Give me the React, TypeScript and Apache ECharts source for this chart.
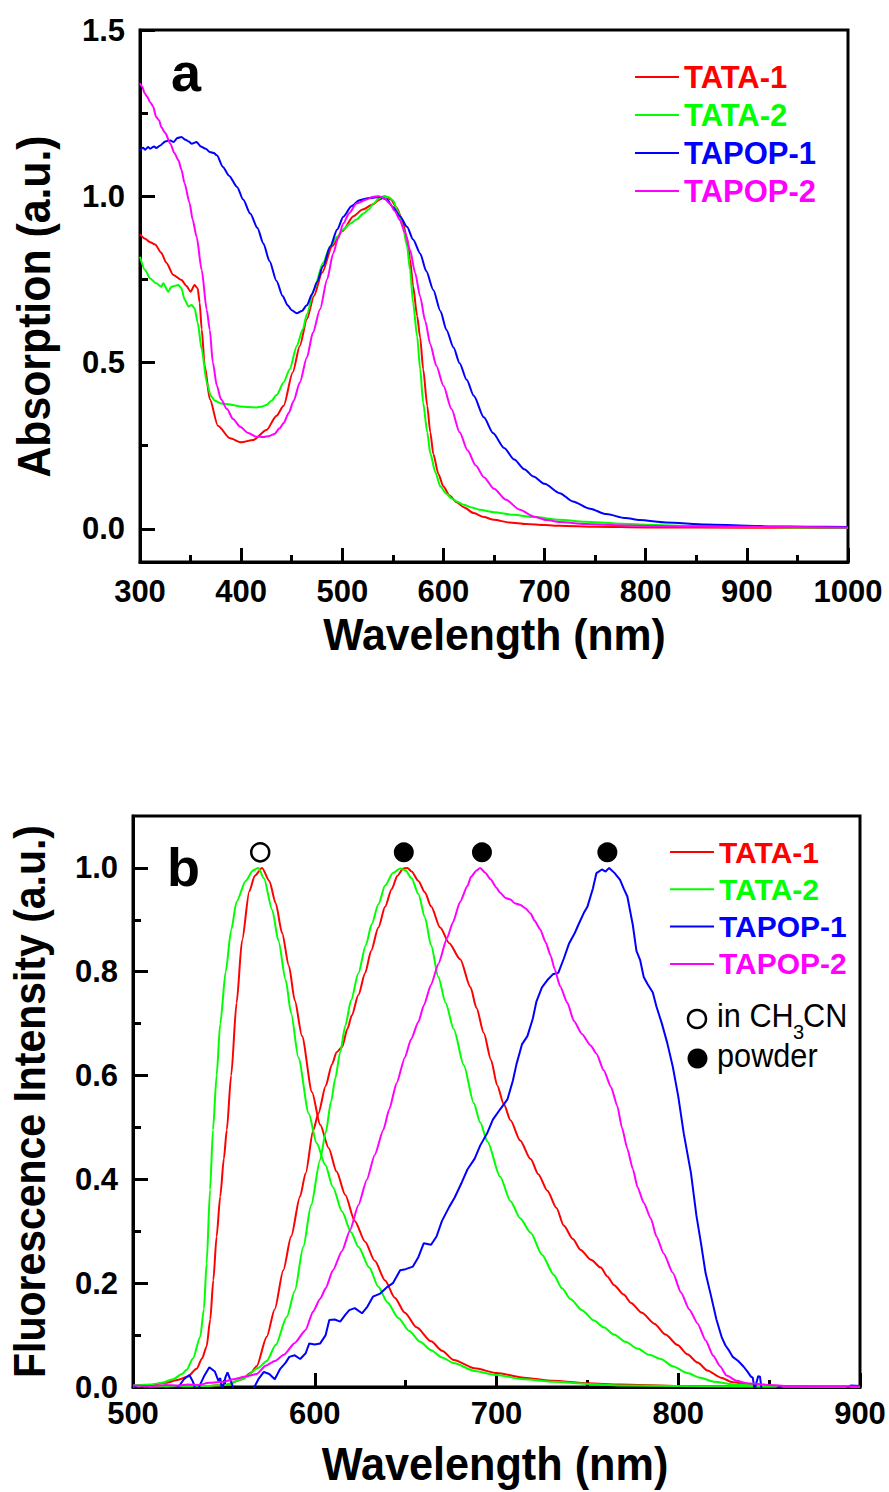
import React, { useEffect, useRef } from 'react';
import * as echarts from 'echarts';

const FONT = "'Liberation Sans', Arial, Helvetica, sans-serif";

const seriesNames = ['TATA-1', 'TATA-2', 'TAPOP-1', 'TAPOP-2'];
const seriesColors = ['#ff0000', '#00ff00', '#0000ff', '#ff00ff'];

// ---------- panel a: absorption ----------
const absXTicks = [300, 1000, 100];
const absYTicks = [0, 0.5, 1.0, 1.5];
const absYMinor = [0.25, 0.75, 1.25];

const absTATA1: [number, number][] = [
  [300, 0.886], [305, 0.872], [310, 0.862], [315, 0.855], [321, 0.83], [326, 0.8], [333, 0.763], [341, 0.748],
  [346, 0.73], [350, 0.713], [354, 0.733], [357, 0.723], [359, 0.68], [361, 0.6], [364, 0.49], [369, 0.39],
  [377, 0.31], [389, 0.272], [400, 0.26], [412, 0.267], [425, 0.297], [435, 0.34], [442, 0.37], [451, 0.47],
  [458, 0.55], [465, 0.63], [472, 0.7], [480, 0.77], [490, 0.85], [500, 0.895], [511, 0.94], [520, 0.96],
  [530, 0.975], [537, 0.99], [542, 1.0], [548, 0.99], [554, 0.965], [559, 0.93], [564, 0.875], [567, 0.81],
  [570, 0.73], [574, 0.64], [577, 0.575], [580, 0.48], [584, 0.37], [587, 0.29], [590, 0.225], [595, 0.165],
  [600, 0.127], [606, 0.1], [613, 0.08], [620, 0.065], [630, 0.047], [640, 0.035], [650, 0.027], [665, 0.019],
  [682, 0.014], [700, 0.011], [715, 0.009], [750, 0.006], [800, 0.004], [900, 0.003], [1000, 0.002],
];
const absTATA2: [number, number][] = [
  [300, 0.818], [305, 0.778], [310, 0.753], [316, 0.738], [321, 0.728], [323, 0.738], [328, 0.713], [331, 0.728],
  [338, 0.733], [341, 0.723], [344, 0.69], [348, 0.668], [351, 0.673], [354, 0.663], [357, 0.62], [361, 0.54],
  [366, 0.44], [370, 0.4], [374, 0.385], [380, 0.377], [386, 0.375], [392, 0.372], [399, 0.368], [407, 0.366],
  [415, 0.365], [420, 0.367], [425, 0.372], [430, 0.385], [435, 0.402], [442, 0.44], [448, 0.48], [455, 0.55],
  [461, 0.6], [465, 0.645], [472, 0.72], [481, 0.8], [488, 0.85], [495, 0.878], [501, 0.9], [508, 0.918],
  [514, 0.93], [521, 0.948], [526, 0.96], [531, 0.978], [536, 0.993], [541, 1.0], [546, 0.997], [550, 0.988],
  [555, 0.955], [560, 0.908], [564, 0.85], [567, 0.778], [570, 0.68], [574, 0.578], [577, 0.48], [580, 0.378],
  [584, 0.29], [587, 0.227], [592, 0.17], [597, 0.127], [603, 0.105], [608, 0.092], [613, 0.082], [620, 0.072],
  [628, 0.064], [636, 0.057], [650, 0.05], [669, 0.042], [690, 0.035], [715, 0.027], [740, 0.021], [770, 0.016],
  [800, 0.012], [850, 0.008], [900, 0.006], [950, 0.004], [1000, 0.003],
];
const absTAPOP1: [number, number][] = [
  [300, 1.138], [303, 1.146], [305, 1.14], [308, 1.148], [310, 1.143], [314, 1.15], [316, 1.145], [320, 1.153],
  [325, 1.165], [330, 1.168], [333, 1.163], [337, 1.175], [341, 1.178], [345, 1.17], [348, 1.165], [351, 1.158],
  [356, 1.163], [360, 1.15], [365, 1.143], [369, 1.133], [373, 1.13], [376, 1.123], [382, 1.088], [388, 1.062],
  [396, 1.028], [402, 0.99], [409, 0.948], [416, 0.905], [422, 0.858], [428, 0.805], [435, 0.745], [441, 0.7],
  [446, 0.672], [450, 0.657], [455, 0.648], [460, 0.655], [465, 0.672], [470, 0.705], [475, 0.742], [481, 0.79],
  [488, 0.848], [495, 0.9], [501, 0.938], [509, 0.97], [517, 0.988], [527, 0.995], [537, 0.998], [544, 0.99],
  [550, 0.968], [557, 0.94], [564, 0.908], [570, 0.87], [577, 0.828], [583, 0.775], [590, 0.718], [597, 0.655],
  [603, 0.598], [610, 0.545], [616, 0.498], [623, 0.448], [630, 0.4], [640, 0.335], [649, 0.288], [660, 0.243],
  [670, 0.208], [680, 0.179], [689, 0.157], [700, 0.135], [715, 0.107], [728, 0.082], [745, 0.06], [761, 0.044],
  [780, 0.032], [794, 0.026], [820, 0.019], [860, 0.013], [900, 0.009], [926, 0.007], [960, 0.006], [1000, 0.005],
];
const absTAPOP2: [number, number][] = [
  [300, 1.34], [302, 1.33], [305, 1.308], [307, 1.3], [310, 1.283], [313, 1.27], [316, 1.238], [319, 1.228],
  [321, 1.208], [325, 1.19], [330, 1.158], [334, 1.13], [338, 1.108], [341, 1.08], [344, 1.04], [349, 0.98],
  [352, 0.93], [356, 0.878], [361, 0.778], [366, 0.658], [369, 0.598], [372, 0.5], [376, 0.43], [380, 0.39],
  [386, 0.36], [392, 0.33], [399, 0.307], [407, 0.288], [415, 0.277], [422, 0.276], [428, 0.279], [433, 0.285],
  [438, 0.302], [442, 0.318], [447, 0.348], [452, 0.385], [458, 0.44], [465, 0.515], [471, 0.59], [478, 0.66],
  [485, 0.75], [491, 0.828], [496, 0.875], [501, 0.918], [507, 0.95], [514, 0.978], [524, 0.99], [530, 0.998],
  [536, 1.0], [541, 0.995], [547, 0.978], [552, 0.955], [557, 0.928], [562, 0.89], [567, 0.838], [572, 0.77],
  [577, 0.698], [582, 0.625], [587, 0.555], [593, 0.49], [600, 0.43], [608, 0.36], [616, 0.29], [624, 0.235],
  [632, 0.19], [640, 0.155], [650, 0.12], [662, 0.087], [675, 0.058], [689, 0.037], [702, 0.026], [715, 0.02],
  [740, 0.014], [780, 0.01], [850, 0.007], [1000, 0.004],
];

// ---------- panel b: fluorescence ----------
const flXTicks = [500, 900, 100];
const flYTicks = [0, 0.2, 0.4, 0.6, 0.8, 1.0];
const flYMinor = [0.1, 0.3, 0.5, 0.7, 0.9];

const flTATA1Sol: [number, number][] = [
  [500, 0.002], [510, 0.004], [518, 0.008], [525, 0.014], [530, 0.02], [535, 0.035], [538, 0.055], [540.5, 0.078],
  [542.5, 0.13], [544.2, 0.206], [546, 0.29], [548, 0.367], [550, 0.44], [551.6, 0.495], [554, 0.6], [557, 0.74],
  [560, 0.86], [564, 0.955], [567, 0.985], [571, 1.0], [575, 0.975], [578.5, 0.932], [582, 0.875], [585.8, 0.811],
  [589, 0.745], [593, 0.676], [598.5, 0.568], [603, 0.505], [607.7, 0.46], [612, 0.415], [616.8, 0.37], [622, 0.32],
  [627.7, 0.28], [633, 0.243], [638.7, 0.205], [644, 0.172], [649.6, 0.143], [656, 0.115], [664, 0.088], [670, 0.07],
  [676.5, 0.052], [688, 0.036], [700, 0.027], [715, 0.018], [731, 0.012], [750, 0.007], [768, 0.005], [800, 0.002],
  [850, 0.001], [900, 0.001],
];
const flTATA2Sol: [number, number][] = [
  [500, 0.003], [510, 0.005], [516, 0.008], [522, 0.015], [527, 0.025], [529.5, 0.033], [533, 0.055], [537, 0.097],
  [539, 0.15], [540.5, 0.238], [542.4, 0.38], [544, 0.495], [546, 0.6], [548, 0.7], [551, 0.8], [554, 0.88],
  [557, 0.935], [562, 0.975], [566, 0.995], [569, 1.0], [572, 0.98], [576.6, 0.919], [580, 0.86], [584, 0.784],
  [587, 0.72], [591, 0.635], [596.7, 0.527], [601, 0.47], [605.8, 0.428], [610, 0.385], [615, 0.338], [620, 0.298],
  [624, 0.27], [630, 0.23], [635, 0.193], [640, 0.163], [646, 0.133], [652, 0.108], [658, 0.087], [664, 0.071],
  [670, 0.057], [676.5, 0.046], [688, 0.031], [700, 0.023], [715, 0.015], [731.6, 0.01], [750, 0.006], [768, 0.003],
  [800, 0.002], [850, 0.001], [900, 0.001],
];
const flTATA1Pow: [number, number][] = [
  [500, 0.001], [540, 0.002], [551, 0.004], [560, 0.015], [565, 0.028], [568, 0.04], [573.6, 0.097], [578, 0.15],
  [582.7, 0.225], [587, 0.29], [591.9, 0.367], [595, 0.412], [599.2, 0.495], [602, 0.527], [606, 0.58], [609.5, 0.622],
  [612, 0.645], [615, 0.655], [618, 0.69], [620.4, 0.716], [624, 0.755], [627.7, 0.797], [631, 0.84], [635, 0.885],
  [638.7, 0.925], [642.3, 0.959], [645.5, 0.985], [648.7, 0.999], [651, 1.0], [653.3, 0.993], [657, 0.975],
  [660.6, 0.953], [664, 0.926], [669, 0.885], [674, 0.855], [680, 0.824], [685.7, 0.77], [689, 0.73], [693, 0.682],
  [697, 0.63], [700.4, 0.581], [704, 0.545], [707.7, 0.514], [713, 0.475], [718.8, 0.439], [723, 0.41], [728, 0.378],
  [733, 0.345], [737, 0.311], [742, 0.285], [746.3, 0.264], [752, 0.245], [757.4, 0.23], [761, 0.213], [764.7, 0.196],
  [770, 0.178], [774, 0.162], [780, 0.143], [786.8, 0.122], [793, 0.101], [799.6, 0.081], [805, 0.063], [810.7, 0.047],
  [816, 0.032], [823.5, 0.018], [830, 0.009], [840, 0.004], [860, 0.002], [900, 0.001],
];
const flTATA2Pow: [number, number][] = [
  [500, 0.001], [540, 0.002], [551, 0.004], [560, 0.015], [569, 0.037], [573.6, 0.05], [578.5, 0.081], [584.6, 0.135],
  [589, 0.185], [593.7, 0.27], [598, 0.35], [602.9, 0.437], [606, 0.49], [609, 0.55], [611.3, 0.595], [614, 0.645],
  [616.8, 0.696], [620, 0.745], [624, 0.797], [628, 0.85], [631.4, 0.892], [635, 0.93], [638.7, 0.966], [643, 0.99],
  [647, 0.999], [650, 0.995], [653.3, 0.98], [657, 0.95], [660.6, 0.905], [664, 0.851], [668, 0.79], [672, 0.74],
  [676.5, 0.689], [682, 0.62], [687.5, 0.547], [691, 0.51], [695, 0.473], [702, 0.405], [707.7, 0.358], [713, 0.325],
  [718.8, 0.297], [725, 0.255], [731.6, 0.216], [736, 0.19], [740.8, 0.169], [747, 0.148], [753.7, 0.128], [759, 0.115],
  [764.7, 0.101], [771, 0.087], [777.6, 0.074], [784, 0.062], [790.4, 0.054], [797, 0.04], [805, 0.027], [812, 0.018],
  [820, 0.01], [830, 0.005], [850, 0.002], [900, 0.001],
];
const flTAPOP1: [number, number][] = [
  [500, 0.003], [503, -0.004], [507, 0.002], [510, -0.01], [515, -0.01], [520, -0.005], [525, 0.0], [528, 0.015],
  [531, 0.023], [533, 0.01], [535, -0.01], [539, 0.02], [542, 0.038], [545, 0.03], [547, 0.012], [548, 0.017],
  [549, -0.005], [551, 0.02], [552, 0.028], [554, 0.01], [556, -0.01], [562, -0.008], [566, -0.005], [569, 0.015],
  [572, 0.029], [575, 0.025], [578, 0.015], [581, 0.035], [584, 0.047], [586, 0.058], [589, 0.061], [592, 0.054],
  [595, 0.065], [597, 0.084], [600, 0.082], [603, 0.084], [606, 0.1], [608, 0.129], [611, 0.13], [614, 0.126],
  [617, 0.14], [619, 0.148], [622, 0.152], [626, 0.142], [629, 0.155], [632, 0.174], [636, 0.18], [640, 0.193],
  [643, 0.2], [647, 0.225], [650, 0.227], [654, 0.232], [657, 0.25], [660, 0.277], [664, 0.274], [667, 0.29],
  [670, 0.32], [674, 0.347], [677, 0.365], [681, 0.395], [684, 0.419], [688, 0.44], [691, 0.465], [695, 0.49],
  [698, 0.515], [702, 0.535], [706, 0.554], [709, 0.59], [711, 0.622], [714, 0.66], [717, 0.676], [720, 0.71],
  [722, 0.743], [725, 0.77], [728, 0.784], [731, 0.795], [734, 0.798], [737, 0.825], [740, 0.855], [743, 0.874],
  [745, 0.89], [748, 0.913], [750, 0.925], [753, 0.96], [755, 0.99], [758, 0.997], [760, 0.993], [762, 1.0],
  [765, 0.99], [768, 0.977], [770, 0.96], [772, 0.945], [775, 0.89], [777, 0.84], [779, 0.823], [781, 0.79],
  [783, 0.777], [786, 0.76], [788, 0.733], [791, 0.7], [794, 0.662], [797, 0.617], [800, 0.56], [803, 0.489],
  [807, 0.412], [810, 0.33], [812.5, 0.277], [815, 0.22], [818, 0.176], [821, 0.13], [824, 0.095], [826, 0.08],
  [828, 0.07], [830, 0.058], [833, 0.05], [836, 0.039], [838, 0.03], [840, 0.02], [841, 0.018], [842, -0.005],
  [844, 0.021], [845, 0.02], [846, -0.01], [852, -0.01], [856, 0.002], [858, -0.01], [870, -0.01], [880, -0.005],
  [890, -0.01], [895, 0.003], [900, 0.002],
];
const flTAPOP2: [number, number][] = [
  [500, 0.003], [510, 0.002], [518, 0.004], [525, 0.003], [530, 0.005], [536, 0.004], [542, 0.008], [550, 0.01],
  [555, 0.015], [562, 0.02], [568, 0.025], [573, 0.041], [578, 0.05], [583, 0.062], [589, 0.085], [595, 0.11],
  [599, 0.145], [603, 0.17], [606, 0.19], [610, 0.225], [615, 0.262], [619.4, 0.302], [624, 0.35], [628.6, 0.399],
  [633, 0.447], [637.7, 0.495], [641, 0.535], [645, 0.585], [649.6, 0.635], [653, 0.67], [657, 0.703], [660, 0.735],
  [664, 0.775], [668, 0.815], [672.8, 0.865], [676, 0.895], [680, 0.935], [684, 0.965], [686, 0.983], [689, 0.995],
  [691, 1.0], [694, 0.99], [696.7, 0.978], [700, 0.962], [702, 0.952], [705, 0.942], [707.7, 0.939], [710, 0.932],
  [713, 0.929], [716, 0.922], [718.8, 0.912], [721, 0.898], [724, 0.882], [727, 0.857], [729.8, 0.831], [732, 0.805],
  [735, 0.772], [739, 0.74], [742.6, 0.705], [747, 0.68], [751.8, 0.658], [755, 0.642], [759, 0.61], [763, 0.578],
  [766.5, 0.541], [769, 0.5], [772, 0.459], [775, 0.42], [777.6, 0.385], [781, 0.355], [785, 0.324], [788, 0.29],
  [792, 0.257], [797, 0.22], [801.5, 0.182], [806, 0.15], [810.7, 0.122], [815, 0.09], [819.3, 0.06], [823, 0.04],
  [826.6, 0.022], [832, 0.012], [837.6, 0.007], [844, 0.006], [850, 0.004], [860, 0.002], [900, 0.001],
];

// peak markers
const markerLevel = 1.03;
const solPeaks = [570];
const powderPeaks = [649, 692, 761];

export default function App() {
  const ref = useRef<HTMLDivElement>(null);

  useEffect(() => {
    const chart = echarts.init(ref.current as HTMLDivElement, null, { renderer: 'svg' });

    const black = '#000';
    const tickLabel = { fontSize: 31, fontWeight: 'bold' as const, color: black, fontFamily: FONT };

    const lineSeries = (name: string, data: [number, number][], xi: number, yi: number, smooth: number | boolean) => {
      const color = seriesColors[seriesNames.indexOf(name)];
      return {
        type: 'line',
        name,
        data,
        xAxisIndex: xi,
        yAxisIndex: yi,
        showSymbol: false,
        symbol: 'none',
        smooth,
        smoothMonotone: 'x',
        lineStyle: { color, width: 2 },
        itemStyle: { color },
        clip: true,
        z: 3,
      };
    };

    const legendStyle = (left: number, top: number, size: number, gap: number) => ({
      orient: 'vertical',
      left,
      top,
      padding: 0,
      itemGap: gap,
      itemWidth: 44,
      itemHeight: 2,
      icon: 'rect',
      selectedMode: false,
      textStyle: { fontSize: size, fontWeight: 'bold', fontFamily: FONT, lineHeight: size },
      data: seriesNames.map((n, i) => ({ name: n, textStyle: { color: seriesColors[i] } })),
    });

    const xAxisBase = (gridIndex: number, ticks: number[], margin: number) => ({
      type: 'value', gridIndex, min: ticks[0], max: ticks[1], interval: ticks[2],
      axisLine: { show: true, onZero: false, lineStyle: { color: black, width: 3 } },
      axisTick: { show: true, inside: true, length: 14, lineStyle: { color: black, width: 3 } },
      minorTick: { show: true, splitNumber: 2, length: 7, lineStyle: { color: black, width: 3 } },
      splitLine: { show: false },
      axisLabel: { ...tickLabel, margin, formatter: (v: number) => String(v) },
    });

    const xHidden = (gridIndex: number, ticks: number[]) => ({
      type: 'value', gridIndex, min: ticks[0], max: ticks[1], show: false,
    });

    const yMain = (gridIndex: number, min: number, max: number, ticks: number[]) => ({
      type: 'value', gridIndex, min, max, position: 'left',
      axisLine: { show: true, onZero: false, lineStyle: { color: black, width: 3 } },
      axisTick: { show: true, inside: true, length: 15, customValues: ticks, lineStyle: { color: black, width: 3 } },
      splitLine: { show: false },
      axisLabel: { ...tickLabel, margin: 15, customValues: ticks, formatter: (v: number) => v.toFixed(1) },
    });

    // minor ticks live on an overlay grid so they can sit on the left side too
    const yMinor = (gridIndex: number, min: number, max: number, ticks: number[]) => ({
      type: 'value', gridIndex, min, max, position: 'left',
      axisLine: { show: false, onZero: false },
      axisTick: { show: true, inside: true, length: 8, customValues: ticks, lineStyle: { color: black, width: 3 } },
      splitLine: { show: false },
      axisLabel: { show: false },
    });

    const gridA = { left: 140, top: 30, width: 708, height: 532 };
    const gridB = { left: 133, top: 816, width: 727, height: 571 };

    const option: any = {
      animation: false,
      backgroundColor: '#fff',
      grid: [
        { ...gridA, show: true, borderColor: black, borderWidth: 3, backgroundColor: 'transparent' },
        { ...gridB, show: true, borderColor: black, borderWidth: 3, backgroundColor: 'transparent' },
        { ...gridA, show: false },
        { ...gridB, show: false },
      ],
      xAxis: [
        xAxisBase(0, absXTicks, 14),
        xAxisBase(1, flXTicks, 11),
        xHidden(2, absXTicks),
        xHidden(3, flXTicks),
      ],
      yAxis: [
        yMain(0, -0.1, 1.5, absYTicks),
        yMinor(2, -0.1, 1.5, absYMinor),
        yMain(1, 0, 1.1, flYTicks),
        yMinor(3, 0, 1.1, flYMinor),
      ],
      legend: [legendStyle(635, 61.5, 31, 7), legendStyle(670, 837, 30, 7.3)],
      series: [
        lineSeries('TATA-1', absTATA1, 0, 0, 0.25),
        lineSeries('TATA-2', absTATA2, 0, 0, 0.25),
        lineSeries('TAPOP-1', absTAPOP1, 0, 0, 0.25),
        lineSeries('TAPOP-2', absTAPOP2, 0, 0, 0.25),
        lineSeries('TATA-1', flTATA1Sol, 1, 2, 0.25),
        lineSeries('TATA-1', flTATA1Pow, 1, 2, 0.25),
        lineSeries('TATA-2', flTATA2Sol, 1, 2, 0.25),
        lineSeries('TATA-2', flTATA2Pow, 1, 2, 0.25),
        lineSeries('TAPOP-1', flTAPOP1, 1, 2, false),
        lineSeries('TAPOP-2', flTAPOP2, 1, 2, 0.2),
        {
          type: 'scatter', name: 'in CH3CN', xAxisIndex: 1, yAxisIndex: 2,
          data: solPeaks.map((x) => [x, markerLevel]),
          symbol: 'circle', symbolSize: 18,
          itemStyle: { color: '#fff', borderColor: black, borderWidth: 2.5, opacity: 1 },
          z: 5,
        },
        {
          type: 'scatter', name: 'powder', xAxisIndex: 1, yAxisIndex: 2,
          data: powderPeaks.map((x) => [x, markerLevel]),
          symbol: 'circle', symbolSize: 20,
          itemStyle: { color: black, opacity: 1 },
          z: 5,
        },
      ],
      graphic: [
        { type: 'text', x: 171, y: 72, style: { text: 'a', font: `bold 54px ${FONT}`, fill: black, align: 'left', verticalAlign: 'middle' } },
        { type: 'text', x: 167, y: 867, style: { text: 'b', font: `bold 54px ${FONT}`, fill: black, align: 'left', verticalAlign: 'middle' } },
        { type: 'text', x: 494.5, y: 634.4, scaleX: 0.95, style: { text: 'Wavelength (nm)', font: `bold 45px ${FONT}`, fill: black, align: 'center', verticalAlign: 'middle' } },
        { type: 'text', x: 495, y: 1464, scaleX: 0.94, style: { text: 'Wavelength (nm)', font: `bold 46px ${FONT}`, fill: black, align: 'center', verticalAlign: 'middle' } },
        { type: 'text', x: 34, y: 306.5, rotation: Math.PI / 2, scaleX: 0.93, style: { text: 'Absorption (a.u.)', font: `bold 46px ${FONT}`, fill: black, align: 'center', verticalAlign: 'middle' } },
        { type: 'text', x: 29, y: 1101.5, rotation: Math.PI / 2, scaleX: 0.91, style: { text: 'Fluorescence Intensity (a.u.)', font: `bold 45px ${FONT}`, fill: black, align: 'center', verticalAlign: 'middle' } },
        { type: 'circle', shape: { cx: 697, cy: 1019, r: 9 }, style: { fill: '#fff', stroke: black, lineWidth: 2.5 } },
        { type: 'circle', shape: { cx: 697.5, cy: 1058.5, r: 10 }, style: { fill: black } },
        { type: 'text', x: 717, y: 1015.3, scaleX: 0.93, style: { text: 'in CH', font: `33px ${FONT}`, fill: black, align: 'left', verticalAlign: 'middle' } },
        { type: 'text', x: 793, y: 1032.4, style: { text: '3', font: `20px ${FONT}`, fill: black, align: 'left', verticalAlign: 'middle' } },
        { type: 'text', x: 803, y: 1015.3, scaleX: 0.93, style: { text: 'CN', font: `33px ${FONT}`, fill: black, align: 'left', verticalAlign: 'middle' } },
        { type: 'text', x: 717, y: 1055.3, scaleX: 0.93, style: { text: 'powder', font: `33px ${FONT}`, fill: black, align: 'left', verticalAlign: 'middle' } },
      ],
    };

    chart.setOption(option);
    return () => chart.dispose();
  }, []);

  return (
    <div
      ref={ref}
      style={{ position: 'absolute', left: 0, top: 0, width: 889, height: 1492, background: '#fff' }}
    />
  );
}
